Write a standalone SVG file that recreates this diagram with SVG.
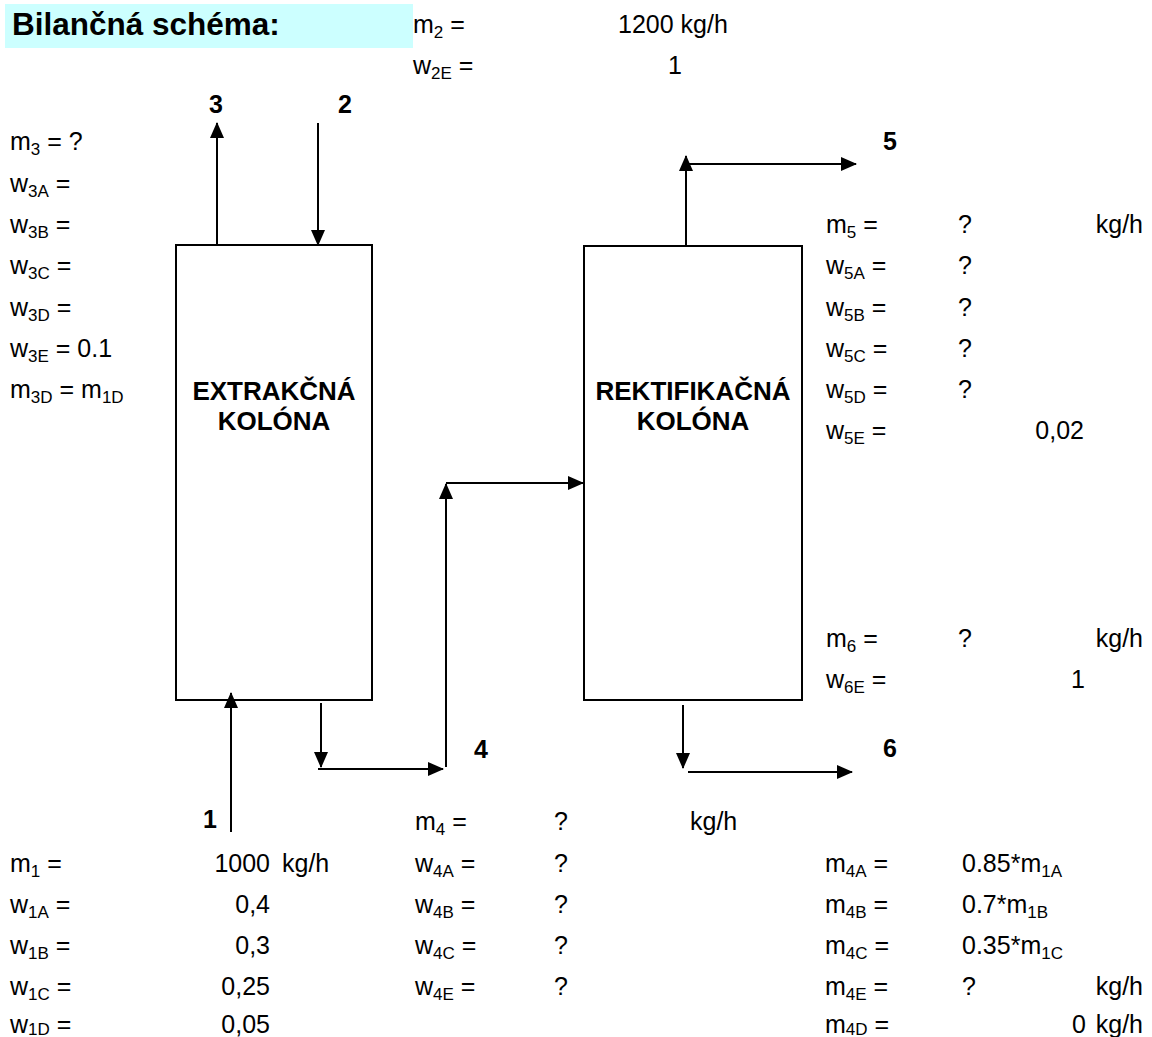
<svg xmlns="http://www.w3.org/2000/svg" width="1152" height="1037" viewBox="0 0 1152 1037">
<style>
text{font-family:"Liberation Sans",Arial,sans-serif;font-size:25px;fill:#000}
.b{font-weight:bold}
.t{font-weight:bold;font-size:26px}
.s{font-size:17px}
.e{text-anchor:end}
.m{text-anchor:middle}
.ln{stroke:#000;stroke-width:2;fill:none}
.box{fill:#fff;stroke:#000;stroke-width:2}
</style>
<defs>
<marker id="ah" markerWidth="16" markerHeight="14" refX="15" refY="7" orient="auto" markerUnits="userSpaceOnUse"><path d="M0,0 L16,7 L0,14 z" fill="#000"/></marker>
</defs>
<rect x="5" y="4" width="408" height="44" fill="#CCFFFF"/>
<text class="b" x="12" y="35" style="font-size:31.5px">Bilančná schéma:</text>

<g id="extr">
<rect class="box" x="176" y="245" width="196" height="455"/>
<text class="t m" x="274" y="400">EXTRAKČNÁ</text>
<text class="t m" x="274" y="430">KOLÓNA</text>
</g>
<g id="rekt">
<rect class="box" x="584" y="246" width="218" height="454"/>
<text class="t m" x="693" y="400">REKTIFIKAČNÁ</text>
<text class="t m" x="693" y="430">KOLÓNA</text>
</g>

<g id="connectors" class="ln">
<line x1="217" y1="245" x2="217" y2="123" marker-end="url(#ah)"/>
<line x1="318" y1="123" x2="318" y2="245" marker-end="url(#ah)"/>
<line x1="231" y1="832" x2="231" y2="693" marker-end="url(#ah)"/>
<line x1="321" y1="703" x2="321" y2="767" marker-end="url(#ah)"/>
<line x1="318" y1="769" x2="443" y2="769" marker-end="url(#ah)"/>
<line x1="446" y1="767" x2="446" y2="484" marker-end="url(#ah)"/>
<line x1="446" y1="483" x2="583" y2="483" marker-end="url(#ah)"/>
<line x1="686" y1="246" x2="686" y2="156" marker-end="url(#ah)"/>
<line x1="686" y1="164" x2="856" y2="164" marker-end="url(#ah)"/>
<line x1="683" y1="705" x2="683" y2="768" marker-end="url(#ah)"/>
<line x1="688" y1="772" x2="852" y2="772" marker-end="url(#ah)"/>
</g>

<g id="labels">
<text class="b" x="209" y="113">3</text>
<text class="b" x="338" y="113">2</text>
<text class="b" x="883" y="150">5</text>
<text class="b" x="474" y="758">4</text>
<text class="b" x="883" y="757">6</text>
<text class="b" x="203" y="828">1</text>
</g>

<g id="stream2">
<text x="413" y="33">m<tspan class="s" dy="5">2</tspan><tspan dy="-5"> =</tspan></text>
<text x="618" y="33">1200 kg/h</text>
<text x="413" y="74">w<tspan class="s" dy="5">2E</tspan><tspan dy="-5"> =</tspan></text>
<text x="668" y="74">1</text>
</g>

<g id="stream3">
<text x="10" y="150">m<tspan class="s" dy="5">3</tspan><tspan dy="-5"> = ?</tspan></text>
<text x="10" y="192">w<tspan class="s" dy="5">3A</tspan><tspan dy="-5"> =</tspan></text>
<text x="10" y="233">w<tspan class="s" dy="5">3B</tspan><tspan dy="-5"> =</tspan></text>
<text x="10" y="274">w<tspan class="s" dy="5">3C</tspan><tspan dy="-5"> =</tspan></text>
<text x="10" y="316">w<tspan class="s" dy="5">3D</tspan><tspan dy="-5"> =</tspan></text>
<text x="10" y="357">w<tspan class="s" dy="5">3E</tspan><tspan dy="-5"> = 0.1</tspan></text>
<text x="10" y="398">m<tspan class="s" dy="5">3D</tspan><tspan dy="-5"> = m</tspan><tspan class="s" dy="5">1D</tspan></text>
</g>

<g id="stream5">
<text x="826" y="233">m<tspan class="s" dy="5">5</tspan><tspan dy="-5"> =</tspan></text>
<text x="958" y="233">?</text>
<text class="e" x="1143" y="233">kg/h</text>
<text x="826" y="274">w<tspan class="s" dy="5">5A</tspan><tspan dy="-5"> =</tspan></text>
<text x="958" y="274">?</text>
<text x="826" y="316">w<tspan class="s" dy="5">5B</tspan><tspan dy="-5"> =</tspan></text>
<text x="958" y="316">?</text>
<text x="826" y="357">w<tspan class="s" dy="5">5C</tspan><tspan dy="-5"> =</tspan></text>
<text x="958" y="357">?</text>
<text x="826" y="398">w<tspan class="s" dy="5">5D</tspan><tspan dy="-5"> =</tspan></text>
<text x="958" y="398">?</text>
<text x="826" y="439">w<tspan class="s" dy="5">5E</tspan><tspan dy="-5"> =</tspan></text>
<text class="e" x="1084" y="439">0,02</text>
</g>

<g id="stream6">
<text x="826" y="647">m<tspan class="s" dy="5">6</tspan><tspan dy="-5"> =</tspan></text>
<text x="958" y="647">?</text>
<text class="e" x="1143" y="647">kg/h</text>
<text x="826" y="688">w<tspan class="s" dy="5">6E</tspan><tspan dy="-5"> =</tspan></text>
<text class="e" x="1085" y="688">1</text>
</g>

<g id="stream4">
<text x="415" y="830">m<tspan class="s" dy="5">4</tspan><tspan dy="-5"> =</tspan></text>
<text x="554" y="830">?</text>
<text x="690" y="830">kg/h</text>
<text x="415" y="872">w<tspan class="s" dy="5">4A</tspan><tspan dy="-5"> =</tspan></text>
<text x="554" y="872">?</text>
<text x="415" y="913">w<tspan class="s" dy="5">4B</tspan><tspan dy="-5"> =</tspan></text>
<text x="554" y="913">?</text>
<text x="415" y="954">w<tspan class="s" dy="5">4C</tspan><tspan dy="-5"> =</tspan></text>
<text x="554" y="954">?</text>
<text x="415" y="995">w<tspan class="s" dy="5">4E</tspan><tspan dy="-5"> =</tspan></text>
<text x="554" y="995">?</text>
</g>

<g id="stream1">
<text x="10" y="872">m<tspan class="s" dy="5">1</tspan><tspan dy="-5"> =</tspan></text>
<text class="e" x="270" y="872">1000</text>
<text x="282" y="872">kg/h</text>
<text x="10" y="913">w<tspan class="s" dy="5">1A</tspan><tspan dy="-5"> =</tspan></text>
<text class="e" x="270" y="913">0,4</text>
<text x="10" y="954">w<tspan class="s" dy="5">1B</tspan><tspan dy="-5"> =</tspan></text>
<text class="e" x="270" y="954">0,3</text>
<text x="10" y="995">w<tspan class="s" dy="5">1C</tspan><tspan dy="-5"> =</tspan></text>
<text class="e" x="270" y="995">0,25</text>
<text x="10" y="1033">w<tspan class="s" dy="2">1D</tspan><tspan dy="-2"> =</tspan></text>
<text class="e" x="270" y="1033">0,05</text>
</g>

<g id="stream4m">
<text x="825" y="872">m<tspan class="s" dy="5">4A</tspan><tspan dy="-5"> =</tspan></text>
<text x="962" y="872">0.85*m<tspan class="s" dy="5">1A</tspan></text>
<text x="825" y="913">m<tspan class="s" dy="5">4B</tspan><tspan dy="-5"> =</tspan></text>
<text x="962" y="913">0.7*m<tspan class="s" dy="5">1B</tspan></text>
<text x="825" y="954">m<tspan class="s" dy="5">4C</tspan><tspan dy="-5"> =</tspan></text>
<text x="962" y="954">0.35*m<tspan class="s" dy="5">1C</tspan></text>
<text x="825" y="995">m<tspan class="s" dy="5">4E</tspan><tspan dy="-5"> =</tspan></text>
<text x="962" y="995">?</text>
<text class="e" x="1143" y="995">kg/h</text>
<text x="825" y="1033">m<tspan class="s" dy="2">4D</tspan><tspan dy="-2"> =</tspan></text>
<text class="e" x="1086" y="1033">0</text>
<text class="e" x="1143" y="1033">kg/h</text>
</g>
</svg>
